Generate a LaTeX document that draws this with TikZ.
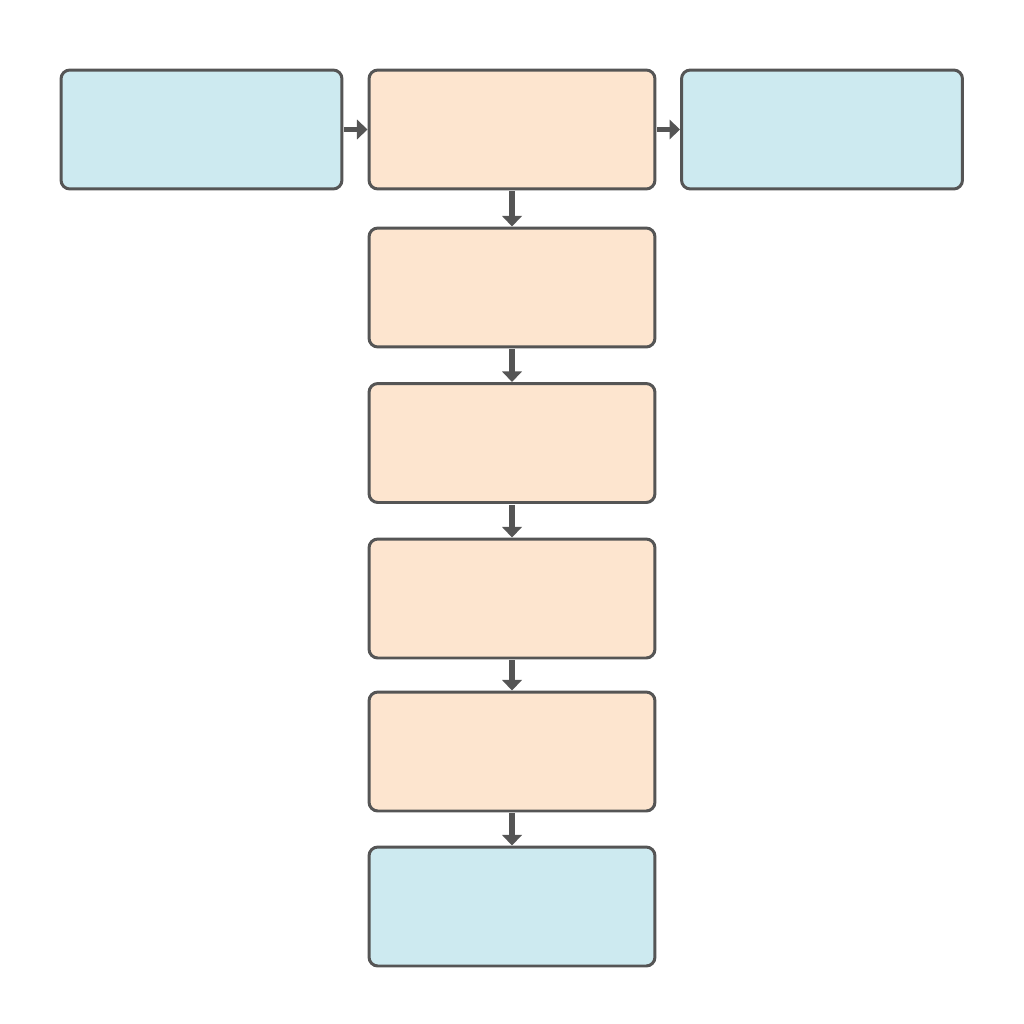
\documentclass[tikz,border=0pt]{standalone}
\usetikzlibrary{arrows.meta}
\definecolor{boxline}{HTML}{555555}
\definecolor{bluefill}{HTML}{CDEAF0}
\definecolor{orangefill}{HTML}{FDE5CF}
\tikzset{every node/.style={draw=boxline, line width=1.7pt, rounded corners=5pt, minimum height=2.38cm, inner sep=0pt},
  blue box/.style={fill=bluefill, minimum width=5.62cm},
  orange box/.style={fill=orangefill, minimum width=5.72cm},
  link/.style={boxline, line width=3.2pt, -{Triangle[length=6pt,width=11pt]}, shorten <=0.5pt}}

\begin{document}
\begin{tikzpicture}[x=0.02cm,y=-0.02cm]
  \useasboundingbox (0,0) rectangle (1024,1024);
  \node[blue box]   (in)  at (201.5,129.5) {};
  \node[orange box] (s0)  at (512,129.5) {};
  \node[blue box]   (out) at (822,129.5) {};
  \node[orange box] (s1)  at (512,287.5) {};
  \node[orange box] (s2)  at (512,443) {};
  \node[orange box] (s3)  at (512,598.5) {};
  \node[orange box] (s4)  at (512,751.5) {};
  \node[blue box, minimum width=5.72cm] (end) at (512,906.5) {};

  \draw[link] (in) -- (s0);
  \draw[link] (s0) -- (out);
  \draw[link] (s0) -- (s1);
  \draw[link] (s1) -- (s2);
  \draw[link] (s2) -- (s3);
  \draw[link] (s3) -- (s4);
  \draw[link] (s4) -- (end);
\end{tikzpicture}
\end{document}
